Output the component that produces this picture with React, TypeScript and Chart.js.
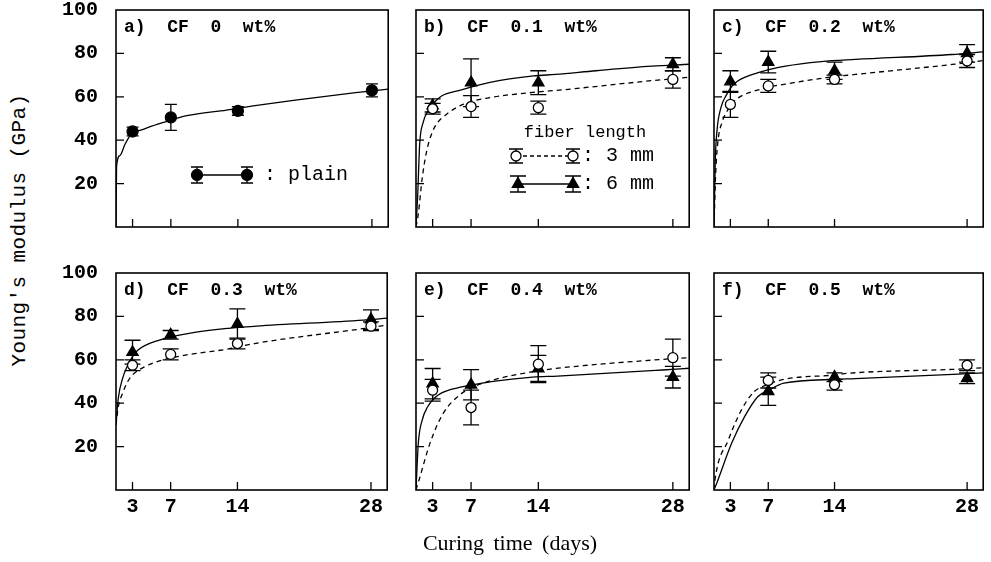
import React, { useEffect, useRef } from 'react';
import { Chart, registerables } from 'chart.js';

Chart.register(...registerables);

// ---------- data ----------
const days = [3, 7, 14, 28];
const yTickValues = [0, 20, 40, 60, 80, 100];
const xMin = 1.27;
const xMax = 29.7;

const titles = [
  'a)  CF  0  wt%',
  'b)  CF  0.1  wt%',
  'c)  CF  0.2  wt%',
  'd)  CF  0.3  wt%',
  'e)  CF  0.4  wt%',
  'f)  CF  0.5  wt%',
];

// a) plain
const plainA = [44, 50.5, 53.5, 63];
const plainAErr = [2, 6, 2, 3];
// b) 0.1 wt%
const b3mm = [54.5, 55.5, 55, 68];
const b3mmErr = [2.5, 5, 3, 4];
const b6mm = [56, 66.5, 66.5, 75];
const b6mmErr = [3, 11, 5.5, 3];
// c) 0.2 wt%
const c3mm = [56.5, 65, 68, 76.5];
const c3mmErr = [6, 3, 2, 3];
const c6mm = [67, 76, 72, 80];
const c6mmErr = [5, 5, 4, 4];
// d) 0.3 wt%
const d3mm = [57.5, 62.5, 67.5, 75.5];
const d3mmErr = [2.5, 2.5, 2.5, 2];
const d6mm = [63.5, 71.5, 76.5, 78.5];
const d6mmErr = [5.5, 2, 7, 4.5];
// e) 0.4 wt%
const e3mm = [46, 38, 58, 61];
const e3mmErr = [5, 8, 8.5, 8.5];
const e6mm = [49, 48.5, 56, 52];
const e6mmErr = [7, 7, 6, 5];
// f) 0.5 wt%
const f3mm = [null, 50.5, 48.5, 57.5];
const f3mmErr = [0, 3.5, 2.5, 2.5];
const f6mm = [null, 45.5, 52, 51.5];
const f6mmErr = [0, 6.5, 2, 2.5];

// fitted curves, [days, GPa]
const curveA = [[1.27, 0], [1.33, 28], [1.7, 33], [2.2, 38], [3, 43.5], [3.75, 44.5], [5, 46.5], [6.85, 49], [8.66, 51.3], [12.8, 53.9], [15.6, 55.8], [20, 58.5], [26.3, 61.9], [29.7, 63.5]];
const curveB6 = [[1.27, 0], [1.45, 15], [1.65, 38], [2, 48], [2.6, 54], [3.2, 57.5], [3.93, 60.4], [5.82, 63], [8.85, 66.5], [13.5, 69.6], [15.8, 70.3], [20, 72], [25.8, 74.1], [29.7, 75]];
const curveB3 = [[1.27, 0], [1.51, 6], [1.9, 22], [2.38, 35], [2.9, 43], [3.41, 47.5], [4.45, 52], [6.16, 56.5], [8.93, 59.6], [13.4, 62], [16.5, 63.2], [25.5, 67.3], [29.7, 69]];
const curveC6 = [[1.27, 0], [1.4, 30], [1.6, 45], [2, 55], [2.6, 61], [3.2, 65], [3.78, 67.3], [5.85, 71], [8.82, 74.1], [12.6, 76.2], [16.2, 77.2], [26.4, 79.5], [29.7, 80.7]];
const curveC3 = [[1.27, 0], [1.45, 25], [1.7, 40], [2.1, 48], [2.6, 53], [3.1, 56.5], [3.62, 58.9], [6.2, 63.5], [9.68, 66.5], [13.1, 68.8], [16.2, 70.3], [26.4, 74.9], [29.7, 76.7]];
const curveD6 = [[1.27, 30], [1.5, 42], [2, 52], [2.5, 57.5], [3, 61.5], [3.58, 64.5], [5.82, 69.1], [8.92, 72.2], [13.06, 74.5], [15.97, 75.5], [27.2, 78.3], [29.7, 79.2]];
const curveD3 = [[1.27, 30], [1.5, 38], [2, 45], [2.5, 50], [3, 53], [4.27, 56.8], [6.16, 59.9], [8.58, 62.2], [13.06, 65], [15.8, 67.5], [27.4, 74.5], [29.7, 76]];
const curveE6 = [[1.27, 0], [1.51, 21.5], [1.9, 32], [2.5, 38.5], [3.58, 43.8], [6.16, 47.6], [9.1, 49.9], [13.4, 52], [16, 52.5], [26.9, 55.3], [29.7, 56.1]];
const curveE3 = [[1.27, 0], [1.68, 6], [2.72, 21.5], [4.1, 35.3], [5.82, 43.8], [7, 47], [9.3, 50.7], [13.4, 54.5], [15.8, 56], [26.9, 60.2], [29.7, 61]];
const curveF6 = [[1.27, 0], [1.55, 3], [3.13, 21.5], [4.5, 33.8], [5.89, 43], [7.1, 46.1], [8.65, 49.2], [14.2, 51], [16.2, 51.3], [26.5, 53.3], [29.7, 54]];
const curveF3 = [[1.27, 0], [1.37, 4.6], [2.78, 23], [4.17, 36.9], [5.51, 45.3], [6.89, 48.5], [8.65, 51], [14, 53], [15.5, 53.8], [26.5, 55.6], [29.7, 56.3]];

// ---------- layout ----------
const colLeft = [116, 416, 714];
const colWidth = [275, 277, 273];
const rowTop = [10, 273];
const plotH = 217;
const padL = 60, padT = 10, padR = 4, padB = 34;

const MONO = '"Liberation Mono", "DejaVu Sans Mono", monospace';

type Kind = 'filled' | 'open' | 'tri';
type Series = { kind: Kind; vals: (number | null)[]; errs: number[]; curve: number[][]; dashed: boolean };
type Panel = { title: string; col: number; row: number; series: Series[]; legend: string; cap: number };

const panels: Panel[] = [
  { title: titles[0], col: 0, row: 0, legend: 'a', cap: 6, series: [{ kind: 'filled', vals: plainA, errs: plainAErr, curve: curveA, dashed: false }] },
  { title: titles[1], col: 1, row: 0, legend: 'b', cap: 8, series: [{ kind: 'open', vals: b3mm, errs: b3mmErr, curve: curveB3, dashed: true }, { kind: 'tri', vals: b6mm, errs: b6mmErr, curve: curveB6, dashed: false }] },
  { title: titles[2], col: 2, row: 0, legend: '', cap: 8, series: [{ kind: 'open', vals: c3mm, errs: c3mmErr, curve: curveC3, dashed: true }, { kind: 'tri', vals: c6mm, errs: c6mmErr, curve: curveC6, dashed: false }] },
  { title: titles[3], col: 0, row: 1, legend: '', cap: 8, series: [{ kind: 'open', vals: d3mm, errs: d3mmErr, curve: curveD3, dashed: true }, { kind: 'tri', vals: d6mm, errs: d6mmErr, curve: curveD6, dashed: false }] },
  { title: titles[4], col: 1, row: 1, legend: '', cap: 8, series: [{ kind: 'open', vals: e3mm, errs: e3mmErr, curve: curveE3, dashed: true }, { kind: 'tri', vals: e6mm, errs: e6mmErr, curve: curveE6, dashed: false }] },
  { title: titles[5], col: 2, row: 1, legend: '', cap: 8, series: [{ kind: 'open', vals: f3mm, errs: f3mmErr, curve: curveF3, dashed: true }, { kind: 'tri', vals: f6mm, errs: f6mmErr, curve: curveF6, dashed: false }] },
];

function markerStyle(kind: Kind) {
  if (kind === 'filled') return { pointStyle: 'circle', radius: 5.5, bg: '#000' };
  if (kind === 'open') return { pointStyle: 'circle', radius: 5, bg: '#fff' };
  return { pointStyle: 'triangle', radius: 6.5, bg: '#000' };
}

function drawMarker(ctx: CanvasRenderingContext2D, kind: Kind, x: number, y: number) {
  const m = markerStyle(kind);
  ctx.save();
  ctx.lineWidth = 1.3;
  ctx.strokeStyle = '#000';
  ctx.fillStyle = m.bg;
  ctx.beginPath();
  if (m.pointStyle === 'circle') {
    ctx.arc(x, y, m.radius, 0, Math.PI * 2);
  } else {
    const r = m.radius;
    let a = 0;
    ctx.moveTo(x + Math.sin(a) * r, y - Math.cos(a) * r);
    a += (2 * Math.PI) / 3;
    ctx.lineTo(x + Math.sin(a) * r, y - Math.cos(a) * r);
    a += (2 * Math.PI) / 3;
    ctx.lineTo(x + Math.sin(a) * r, y - Math.cos(a) * r);
    ctx.closePath();
  }
  ctx.fill();
  ctx.stroke();
  ctx.restore();
}

function drawErr(ctx: CanvasRenderingContext2D, x: number, yt: number, yb: number, cap: number) {
  ctx.beginPath();
  ctx.moveTo(x, yt); ctx.lineTo(x, yb);
  ctx.moveTo(x - cap, yt); ctx.lineTo(x + cap, yt);
  ctx.moveTo(x - cap, yb); ctx.lineTo(x + cap, yb);
  ctx.stroke();
}

const errorBarPlugin = {
  id: 'errorBars',
  beforeDatasetDraw(chart: any, args: any) {
    const ds = chart.data.datasets[args.index];
    if (!ds.errCap) return;
    const xs = chart.scales.x, ys = chart.scales.y, ctx = chart.ctx;
    ctx.save();
    ctx.strokeStyle = '#000';
    ctx.lineWidth = 1.3;
    ds.data.forEach((p: any) => {
      if (!p.e) return;
      const x = xs.getPixelForValue(p.x);
      drawErr(ctx, x, ys.getPixelForValue(p.y + p.e), ys.getPixelForValue(p.y - p.e), ds.errCap);
    });
    ctx.restore();
  },
};

const framePlugin = {
  id: 'frame',
  afterDatasetsDraw(chart: any) {
    const { ctx, chartArea: ca } = chart;
    const opts = chart.options.plugins.frame || {};
    const xs = chart.scales.x, ys = chart.scales.y;
    ctx.save();
    ctx.strokeStyle = '#000';
    ctx.lineWidth = 1.6;
    ctx.strokeRect(ca.left, ca.top, ca.right - ca.left, ca.bottom - ca.top);
    ctx.lineWidth = 1.3;
    ctx.beginPath();
    ys.ticks.forEach((t: any) => {
      if (t.value <= 0 || t.value >= 100) return;
      const y = ys.getPixelForValue(t.value);
      ctx.moveTo(ca.left, y); ctx.lineTo(ca.left + 8, y);
    });
    xs.ticks.forEach((t: any) => {
      const x = xs.getPixelForValue(t.value);
      ctx.moveTo(x, ca.bottom); ctx.lineTo(x, ca.bottom - 8);
    });
    ctx.stroke();
    // panel title
    ctx.fillStyle = '#000';
    ctx.font = `bold 18px ${MONO}`;
    ctx.textAlign = 'left';
    ctx.textBaseline = 'middle';
    ctx.fillText(opts.title, ca.left + 8, ca.top + 17);
    // legends
    const L = ca.left, T = ca.top;
    if (opts.legend === 'a') {
      const y = T + 165;
      ctx.lineWidth = 1.3;
      ctx.beginPath(); ctx.moveTo(L + 81, y); ctx.lineTo(L + 131, y); ctx.stroke();
      drawErr(ctx, L + 81, y - 8, y + 8, 6);
      drawErr(ctx, L + 131, y - 8, y + 8, 6);
      drawMarker(ctx, 'filled', L + 81, y);
      drawMarker(ctx, 'filled', L + 131, y);
      ctx.font = `20px ${MONO}`;
      ctx.fillText(': plain', L + 148, y);
    } else if (opts.legend === 'b') {
      ctx.font = `17px ${MONO}`;
      ctx.textAlign = 'center';
      ctx.fillText('fiber length', L + 169, T + 122);
      ctx.textAlign = 'left';
      const y1 = T + 146, y2 = T + 174;
      ctx.lineWidth = 1.3;
      ctx.setLineDash([4, 3]);
      ctx.beginPath(); ctx.moveTo(L + 100, y1); ctx.lineTo(L + 157, y1); ctx.stroke();
      ctx.setLineDash([]);
      ctx.beginPath(); ctx.moveTo(L + 102, y2); ctx.lineTo(L + 157, y2); ctx.stroke();
      drawErr(ctx, L + 100, y1 - 7, y1 + 7, 7);
      drawErr(ctx, L + 157, y1 - 7, y1 + 7, 7);
      drawErr(ctx, L + 102, y2 - 8, y2 + 8, 8);
      drawErr(ctx, L + 157, y2 - 8, y2 + 8, 8);
      drawMarker(ctx, 'open', L + 100, y1);
      drawMarker(ctx, 'open', L + 157, y1);
      drawMarker(ctx, 'tri', L + 102, y2);
      drawMarker(ctx, 'tri', L + 157, y2);
      ctx.font = `20px ${MONO}`;
      ctx.fillText(': 3 mm', L + 166, y1);
      ctx.fillText(': 6 mm', L + 166, y2);
    }
    ctx.restore();
  },
};

function buildConfig(p: Panel): any {
  const datasets: any[] = [];
  p.series.forEach((s) => {
    const m = markerStyle(s.kind);
    const pts = days
      .map((d, i) => (s.vals[i] == null ? null : { x: d, y: s.vals[i] as number, e: s.errs[i] }))
      .filter((v) => v !== null);
    datasets.push({
      data: pts,
      showLine: false,
      pointStyle: m.pointStyle,
      pointRadius: m.radius,
      pointBackgroundColor: m.bg,
      pointBorderColor: '#000',
      pointBorderWidth: 1.3,
      errCap: p.cap,
      order: 0,
    });
    datasets.push({
      data: s.curve.map(([x, y]) => ({ x, y })),
      showLine: true,
      pointRadius: 0,
      borderColor: '#000',
      borderWidth: 1.3,
      borderDash: s.dashed ? [5, 4] : [],
      cubicInterpolationMode: 'monotone',
      fill: false,
      order: 1,
    });
  });
  const showX = p.row === 1;
  const showY = p.col === 0;
  return {
    type: 'scatter',
    data: { datasets },
    options: {
      responsive: false,
      animation: false,
      events: [],
      layout: { padding: { top: padT, right: padR, left: 0, bottom: 0 } },
      plugins: {
        legend: { display: false },
        tooltip: { enabled: false },
        frame: { title: p.title, legend: p.legend },
      },
      scales: {
        x: {
          type: 'linear',
          min: xMin,
          max: xMax,
          afterBuildTicks: (s: any) => { s.ticks = days.map((v) => ({ value: v })); },
          afterFit: (s: any) => { s.height = padB; s.paddingLeft = 0; s.paddingRight = 0; },
          grid: { display: false, drawTicks: false },
          border: { display: false },
          ticks: {
            display: showX,
            color: '#000',
            padding: 5,
            maxRotation: 0,
            autoSkip: false,
            font: { family: MONO, size: 20, weight: 'bold' },
            callback: (v: any) => String(v),
          },
        },
        y: {
          type: 'linear',
          min: 0,
          max: 100,
          afterBuildTicks: (s: any) => { s.ticks = yTickValues.map((v) => ({ value: v })); },
          afterFit: (s: any) => { s.width = padL; s.paddingTop = 0; s.paddingBottom = 0; },
          grid: { display: false, drawTicks: false },
          border: { display: false },
          ticks: {
            display: showY,
            color: '#000',
            padding: 18,
            font: { family: MONO, size: 20, weight: 'bold' },
            callback: (v: any) => (v === 0 ? '' : String(v)),
          },
        },
      },
    },
    plugins: [errorBarPlugin, framePlugin],
  };
}

export default function App() {
  const refs = useRef<(HTMLCanvasElement | null)[]>([]);
  useEffect(() => {
    const charts = panels.map((p, i) => new Chart(refs.current[i] as HTMLCanvasElement, buildConfig(p)));
    return () => charts.forEach((c) => c.destroy());
  }, []);

  return (
    <div style={{ position: 'absolute', left: 0, top: 0, width: 991, height: 562, overflow: 'hidden', background: '#fff' }}>
      {panels.map((p, i) => {
        const w = colWidth[p.col] + padL + padR;
        const h = plotH + padT + padB;
        return (
          <canvas
            key={i}
            ref={(el) => { refs.current[i] = el; }}
            width={w}
            height={h}
            style={{ position: 'absolute', left: colLeft[p.col] - padL, top: rowTop[p.row] - padT, width: w, height: h }}
          />
        );
      })}
      <div
        style={{
          position: 'absolute', left: 19, top: 230, transform: 'translate(-50%, -50%) rotate(-90deg)',
          whiteSpace: 'nowrap', fontFamily: MONO, fontSize: 21, letterSpacing: '0.4px', color: '#000', lineHeight: 1,
        }}
      >
        Young's modulus (GPa)
      </div>
      <div
        style={{
          position: 'absolute', left: 510, top: 543, transform: 'translate(-50%, -50%)',
          whiteSpace: 'nowrap', fontFamily: '"Liberation Serif", serif', fontSize: 22, wordSpacing: '4px', color: '#000', lineHeight: 1,
        }}
      >
        Curing time (days)
      </div>
    </div>
  );
}
